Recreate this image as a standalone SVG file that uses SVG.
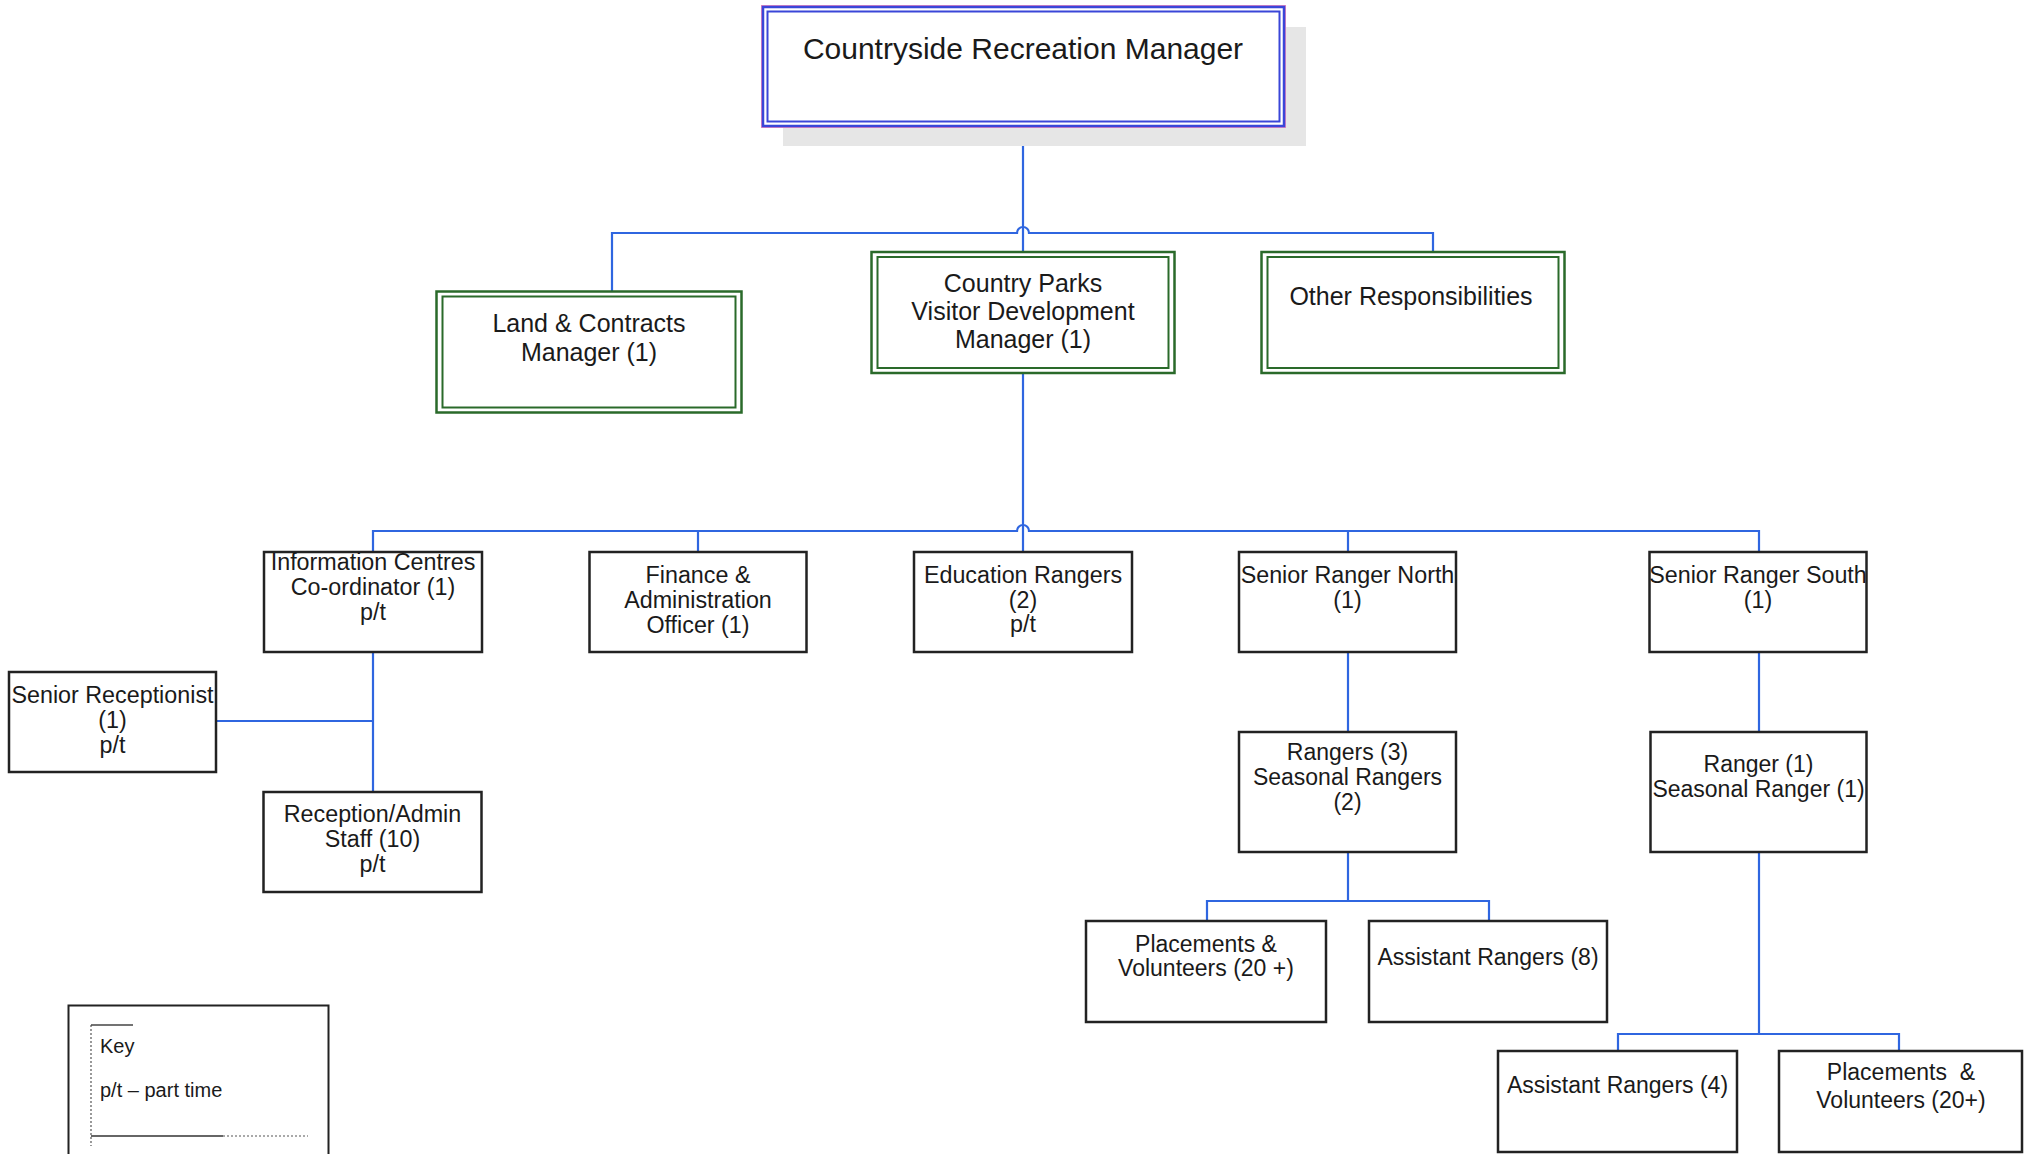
<svg xmlns="http://www.w3.org/2000/svg" width="2024" height="1154" viewBox="0 0 2024 1154">
<style>
  .bg { fill: #ffffff; }
  .box { fill: #ffffff; stroke: #222222; stroke-width: 2.5; }
  .gout { fill: #ffffff; stroke: #2a6a2a; stroke-width: 2.5; }
  .gin { fill: none; stroke: #2a6a2a; stroke-width: 2; }
  .conn { fill: none; stroke: #2f66e0; stroke-width: 2.2; }
  text { font-family: "Liberation Sans", Arial, sans-serif; fill: #1a1a1a; text-anchor: middle; }
  .t1 { font-size: 30px; }
  .t2 { font-size: 25px; }
  .t3 { font-size: 23.3px; }
  .t4 { font-size: 23px; }
  .tk { font-size: 20px; text-anchor: start; }
</style>
<rect class="bg" x="0" y="0" width="2024" height="1154"/>

<g id="connectors">
  <path class="conn" d="M1023,127 V252"/>
  <path class="conn" d="M612,292 V233 H1017 A6,6 0 0 1 1029,233 H1433 V252"/>
  <path class="conn" d="M1023,373 V552"/>
  <path class="conn" d="M373,552 V531 H1017 A6,6 0 0 1 1029,531 H1759 V552"/>
  <path class="conn" d="M698,531 V552"/>
  <path class="conn" d="M1348,531 V552"/>
  <path class="conn" d="M373,652 V792"/>
  <path class="conn" d="M216,721 H373"/>
  <path class="conn" d="M1348,652 V732"/>
  <path class="conn" d="M1348,852 V901"/>
  <path class="conn" d="M1207,921 V901 H1489 V921"/>
  <path class="conn" d="M1759,652 V732"/>
  <path class="conn" d="M1759,852 V1034"/>
  <path class="conn" d="M1618,1051 V1034 H1899 V1051"/>
</g>

<g id="node-crm">
  <rect x="783" y="27" width="523" height="119" fill="#e6e6e6"/>
  <rect x="761.5" y="5.5" width="524" height="122" fill="#ffffff" stroke="#e88ac0" stroke-width="1"/>
  <rect x="763" y="7" width="521" height="119" fill="none" stroke="#3a46d8" stroke-width="2.5"/>
  <rect x="767.5" y="11.5" width="512" height="110" fill="none" stroke="#3a46d8" stroke-width="2"/>
  <text class="t1" x="1023" y="59">Countryside Recreation Manager</text>
</g>

<g id="node-land">
  <rect class="gout" x="436.5" y="291.5" width="305" height="121"/>
  <rect class="gin" x="442.5" y="296.5" width="293" height="111"/>
  <text class="t2" x="589" y="332">Land &amp; Contracts</text>
  <text class="t2" x="589" y="361">Manager (1)</text>
</g>

<g id="node-cpvdm">
  <rect class="gout" x="871.5" y="252" width="303" height="121"/>
  <rect class="gin" x="877.5" y="257" width="291" height="111"/>
  <text class="t2" x="1023" y="292">Country Parks</text>
  <text class="t2" x="1023" y="320">Visitor Development</text>
  <text class="t2" x="1023" y="348">Manager (1)</text>
</g>

<g id="node-other">
  <rect class="gout" x="1261.5" y="252" width="303" height="121"/>
  <rect class="gin" x="1267.5" y="257" width="291" height="111"/>
  <text class="t2" x="1411" y="305">Other Responsibilities</text>
</g>

<g id="node-info">
  <rect class="box" x="264" y="552" width="218" height="100"/>
  <text class="t3" x="373" y="570">Information Centres</text>
  <text class="t3" x="373" y="595">Co-ordinator (1)</text>
  <text class="t3" x="373" y="620">p/t</text>
</g>

<g id="node-finance">
  <rect class="box" x="589.5" y="552" width="217" height="100"/>
  <text class="t3" x="698" y="583">Finance &amp;</text>
  <text class="t3" x="698" y="608">Administration</text>
  <text class="t3" x="698" y="633">Officer (1)</text>
</g>

<g id="node-education">
  <rect class="box" x="914" y="552" width="218" height="100"/>
  <text class="t3" x="1023" y="583">Education Rangers</text>
  <text class="t3" x="1023" y="608">(2)</text>
  <text class="t3" x="1023" y="632">p/t</text>
</g>

<g id="node-srn">
  <rect class="box" x="1239" y="552" width="217" height="100"/>
  <text class="t3" x="1347.5" y="583">Senior Ranger North</text>
  <text class="t3" x="1347.5" y="608">(1)</text>
</g>

<g id="node-srs">
  <rect class="box" x="1649.5" y="552" width="217" height="100"/>
  <text class="t3" x="1758" y="583">Senior Ranger South</text>
  <text class="t3" x="1758" y="608">(1)</text>
</g>

<g id="node-senior-receptionist">
  <rect class="box" x="9" y="672" width="207" height="100"/>
  <text class="t3" x="112.5" y="703">Senior Receptionist</text>
  <text class="t3" x="112.5" y="728">(1)</text>
  <text class="t3" x="112.5" y="753">p/t</text>
</g>

<g id="node-reception">
  <rect class="box" x="263.5" y="792" width="218" height="100"/>
  <text class="t3" x="372.5" y="822">Reception/Admin</text>
  <text class="t3" x="372.5" y="847">Staff (10)</text>
  <text class="t3" x="372.5" y="872">p/t</text>
</g>

<g id="node-rangers3">
  <rect class="box" x="1239" y="732" width="217" height="120"/>
  <text class="t4" x="1347.5" y="760">Rangers (3)</text>
  <text class="t4" x="1347.5" y="785">Seasonal Rangers</text>
  <text class="t4" x="1347.5" y="810">(2)</text>
</g>

<g id="node-ranger1">
  <rect class="box" x="1650.5" y="732" width="216" height="120"/>
  <text class="t4" x="1758.5" y="772">Ranger (1)</text>
  <text class="t4" x="1758.5" y="797">Seasonal Ranger (1)</text>
</g>

<g id="node-placements-n">
  <rect class="box" x="1086" y="921" width="240" height="101"/>
  <text class="t4" x="1206" y="952">Placements &amp;</text>
  <text class="t4" x="1206" y="976">Volunteers (20 +)</text>
</g>

<g id="node-assistant8">
  <rect class="box" x="1369" y="921" width="238" height="101"/>
  <text class="t4" x="1488" y="965">Assistant Rangers (8)</text>
</g>

<g id="node-assistant4">
  <rect class="box" x="1498" y="1051" width="239" height="101"/>
  <text class="t4" x="1617.5" y="1093">Assistant Rangers (4)</text>
</g>

<g id="node-placements-s">
  <rect class="box" x="1779" y="1051" width="243" height="101"/>
  <text class="t4" x="1901" y="1080" xml:space="preserve">Placements  &amp;</text>
  <text class="t4" x="1901" y="1108">Volunteers (20+)</text>
</g>

<g id="key">
  <rect x="68.5" y="1005.5" width="260" height="160" fill="#ffffff" stroke="#222222" stroke-width="2"/>
  <line x1="91" y1="1025" x2="91" y2="1146" stroke="#555555" stroke-width="1.2" stroke-dasharray="2,2"/>
  <line x1="91" y1="1025" x2="133" y2="1025" stroke="#444444" stroke-width="1.5"/>
  <line x1="91" y1="1136" x2="223" y2="1136" stroke="#333333" stroke-width="1.5"/>
  <line x1="223" y1="1136" x2="308" y2="1136" stroke="#555555" stroke-width="1.2" stroke-dasharray="2,2"/>
  <text class="tk" x="100" y="1053">Key</text>
  <text class="tk" x="100" y="1097">p/t – part time</text>
</g>
</svg>
